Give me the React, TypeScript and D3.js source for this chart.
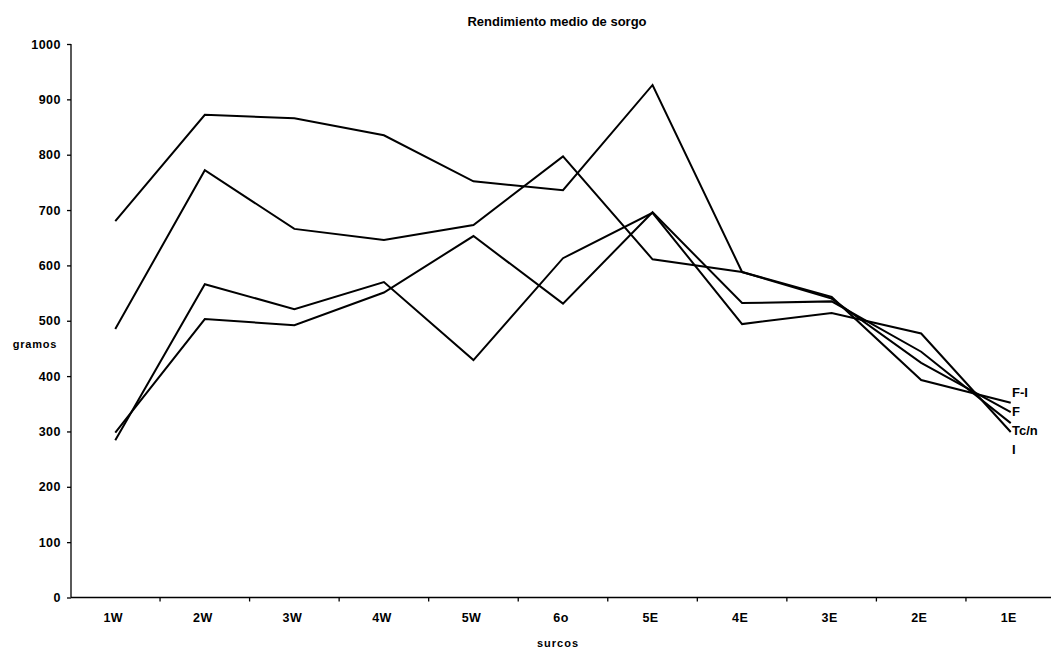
import React from "react";
import * as d3 from "d3";

const surcos = ["1W", "2W", "3W", "4W", "5W", "6o", "5E", "4E", "3E", "2E", "1E"];
const serieFI = [680, 872, 866, 835, 752, 736, 926, 588, 543, 393, 352];
const serieF = [485, 772, 666, 646, 673, 797, 611, 588, 540, 424, 335];
const serieTc = [298, 503, 492, 551, 653, 531, 696, 532, 535, 444, 315];
const serieI = [284, 566, 521, 570, 429, 613, 695, 494, 514, 477, 299];
const nombres = ["F-I", "F", "Tc/n", "I"];
const yTicks = [0, 100, 200, 300, 400, 500, 600, 700, 800, 900, 1000];

const W = 1051;
const H = 649;
const FONT = "'Liberation Sans', Arial, Helvetica, sans-serif";

const App = () => {
  const svgRef = React.useRef<SVGSVGElement>(null);

  React.useEffect(() => {
    const svg = d3.select(svgRef.current);
    svg.selectAll("*").remove();

    const x = d3.scaleBand<string>().domain(surcos).range([70.5, 1055.5]).padding(0);
    const cx = (d: string) => (x(d) as number) + x.bandwidth() / 2;
    const y = d3.scaleLinear().domain([0, 1000]).range([597.5, 44]);

    // title
    svg.append("text")
      .attr("x", 557).attr("y", 26)
      .attr("text-anchor", "middle")
      .style("font-family", FONT).style("font-size", "13px").style("font-weight", "bold")
      .text("Rendimiento medio de sorgo");

    // y axis
    const yAxis = d3.axisLeft(y).tickValues(yTicks).tickFormat(d3.format("d")).tickSize(4).tickPadding(6);
    const yg = svg.append("g").attr("transform", "translate(71,0)").call(yAxis);
    yg.select(".domain").attr("stroke", "#000").attr("stroke-width", 1.3).attr("d", `M0,${y(1000)}V${y(0)}`);
    yg.selectAll("line").attr("stroke", "#000").attr("stroke-width", 1.3);
    yg.selectAll("text")
      .style("font-family", FONT).style("font-size", "12.5px").style("font-weight", "bold")
      .style("letter-spacing", "0.5px").attr("fill", "#000");

    svg.append("text")
      .attr("x", 35).attr("y", 348)
      .attr("text-anchor", "middle")
      .style("font-family", FONT).style("font-size", "11px").style("font-weight", "bold")
      .style("letter-spacing", "0.8px")
      .text("gramos");

    // x axis: line, ticks between categories, labels
    const xg = svg.append("g");
    xg.append("line")
      .attr("x1", 71).attr("x2", W).attr("y1", y(0)).attr("y2", y(0))
      .attr("stroke", "#000").attr("stroke-width", 1.3);
    xg.selectAll(".tk")
      .data(surcos.slice(1))
      .enter().append("line")
      .attr("x1", d => x(d) as number).attr("x2", d => x(d) as number)
      .attr("y1", y(0)).attr("y2", y(0) + 4)
      .attr("stroke", "#000").attr("stroke-width", 1.3);
    xg.selectAll(".lb")
      .data(surcos)
      .enter().append("text")
      .attr("x", d => cx(d) - 2).attr("y", y(0) + 24)
      .attr("text-anchor", "middle")
      .style("font-family", FONT).style("font-size", "12.5px").style("font-weight", "bold")
      .style("letter-spacing", "0.4px")
      .text(d => d);

    svg.append("text")
      .attr("x", 558).attr("y", 647)
      .attr("text-anchor", "middle")
      .style("font-family", FONT).style("font-size", "11px").style("font-weight", "bold")
      .style("letter-spacing", "1px")
      .text("surcos");

    // series
    const series = [serieFI, serieF, serieTc, serieI];
    const line = d3.line<number>()
      .x((_, i) => cx(surcos[i]))
      .y(d => y(d));
    svg.selectAll(".serie")
      .data(series)
      .enter().append("path")
      .attr("d", d => line(d))
      .attr("fill", "none")
      .attr("stroke", "#000")
      .attr("stroke-width", 2)
      .attr("stroke-linejoin", "miter");

    // series names at the right end
    const top = y(d3.max(series, s => s[s.length - 1]) as number);
    svg.selectAll(".nm")
      .data(nombres)
      .enter().append("text")
      .attr("x", 1012)
      .attr("y", (_, i) => top - 10 + i * 19)
      .attr("dy", "0.35em")
      .style("font-family", FONT).style("font-size", "13px").style("font-weight", "bold")
      .text(d => d);
  }, []);

  return (
    <svg
      ref={svgRef}
      width={W}
      height={H}
      style={{ position: "absolute", left: 0, top: 0, background: "#fff", display: "block" }}
    />
  );
};

export default App;
